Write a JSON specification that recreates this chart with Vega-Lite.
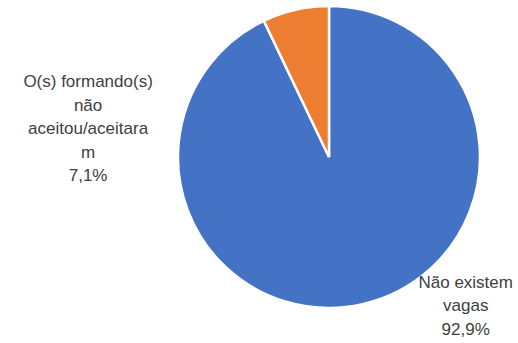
{
  "$schema": "https://vega.github.io/schema/vega-lite/v6.json",
  "width": 302,
  "height": 302,
  "autosize": {"type": "none"},
  "padding": {"left": 178, "top": 6, "right": 38, "bottom": 35},
  "background": "white",
  "config": {"view": {"stroke": null}},
  "data": {
    "values": [
      {"category": "Não existem vagas", "value": 92.9, "label": "Não existem\nvagas\n92,9%"},
      {"category": "O(s) formando(s) não aceitou/aceitaram", "value": 7.1, "label": "O(s) formando(s)\nnão\naceitou/aceitara\nm\n7,1%"}
    ]
  },
  "encoding": {
    "theta": {"field": "value", "type": "quantitative", "stack": true}
  },
  "layer": [
    {
      "mark": {"type": "arc", "stroke": "white", "strokeWidth": 2.5},
      "encoding": {
        "color": {
          "field": "category",
          "type": "nominal",
          "scale": {"domain": ["Não existem vagas", "O(s) formando(s) não aceitou/aceitaram"], "range": ["#4472C4", "#ED7D31"]},
          "legend": null
        }
      }
    },
    {
      "mark": {"type": "text", "radius": 175, "dx": 98, "dy": -45, "font": "Liberation Sans", "fontSize": 17, "lineHeight": 23.5, "lineBreak": "\n", "align": "center", "baseline": "middle", "color": "#404040"},
      "encoding": {
        "detail": {"field": "category", "type": "nominal"},
        "text": {"condition": {"test": "datum.category === 'Não existem vagas'", "field": "label"}, "value": ""}
      }
    },
    {
      "mark": {"type": "text", "radius": 81, "dx": -223, "dy": 4, "font": "Liberation Sans", "fontSize": 17, "lineHeight": 23.5, "lineBreak": "\n", "align": "center", "baseline": "middle", "color": "#404040"},
      "encoding": {
        "detail": {"field": "category", "type": "nominal"},
        "text": {"condition": {"test": "datum.category !== 'Não existem vagas'", "field": "label"}, "value": ""}
      }
    }
  ]
}
